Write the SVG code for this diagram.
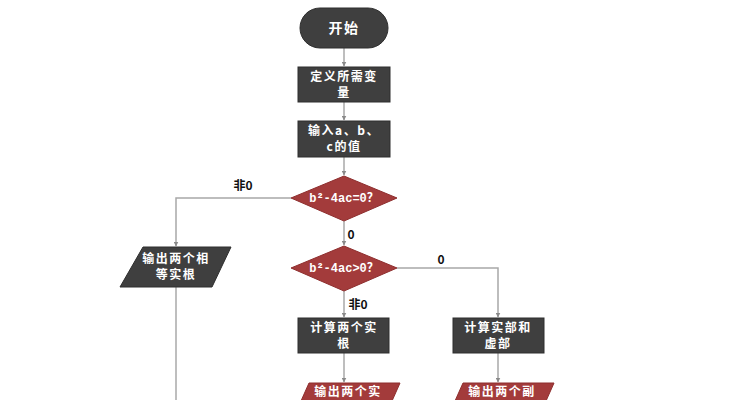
<svg xmlns="http://www.w3.org/2000/svg" width="735" height="400" viewBox="0 0 735 400">
<style>
.dk{fill:#3f3f3f;stroke:#2e2e2e;stroke-width:1}
.rd{fill:#a33b3b;stroke:#8e2e2e;stroke-width:1}
.t{fill:#fff;font-family:"Noto Sans CJK SC","Noto Sans",sans-serif;font-size:12px;font-weight:bold;text-anchor:middle;letter-spacing:1.5px}
.dt{fill:#fff;font-family:"Liberation Mono","Noto Sans CJK SC",monospace;font-size:12px;font-weight:bold;text-anchor:middle}
.lb{fill:#111;font-family:"Noto Sans CJK SC","Noto Sans",sans-serif;font-size:12px;font-weight:bold;text-anchor:middle}
.c{fill:none;stroke:#a8a8a8;stroke-width:1.5}
</style>
<defs>
<marker id="ar" viewBox="0 0 10 10" refX="9" refY="5" markerWidth="5" markerHeight="5" orient="auto" markerUnits="userSpaceOnUse">
<path d="M0,0 L10,5 L0,10 z" fill="#8a8a8a"/>
</marker>
</defs>
<rect width="735" height="400" fill="#fff"/>
<g id="connectors">
<path class="c" d="M344,48 V66" marker-end="url(#ar)"/>
<path class="c" d="M344,102 V120" marker-end="url(#ar)"/>
<path class="c" d="M344,157 V175" marker-end="url(#ar)"/>
<path class="c" d="M291,198 H176 V246" marker-end="url(#ar)"/>
<path class="c" d="M344,221 V245" marker-end="url(#ar)"/>
<path class="c" d="M176,287 V400"/>
<path class="c" d="M397,268 H498 V317" marker-end="url(#ar)"/>
<path class="c" d="M344,291 V317" marker-end="url(#ar)"/>
<path class="c" d="M344,353 V382" marker-end="url(#ar)"/>
<path class="c" d="M498,353 V382" marker-end="url(#ar)"/>
<text class="lb" x="243" y="190">非0</text>
<text class="lb" x="351" y="239">0</text>
<text class="lb" x="441" y="264">0</text>
<text class="lb" x="358" y="309">非0</text>
</g>
<g id="start">
<rect class="dk" x="300" y="8" width="88" height="40" rx="20"/>
<text class="t" x="344" y="33" style="font-size:14px">开始</text>
</g>
<g id="define">
<rect class="dk" x="298" y="67" width="92" height="35"/>
<text class="t" x="344" y="81">定义所需变</text>
<text class="t" x="344" y="97">量</text>
</g>
<g id="input">
<rect class="dk" x="298" y="121" width="92" height="36"/>
<text class="t" x="344" y="135">输入a、b、</text>
<text class="t" x="344" y="151">c的值</text>
</g>
<g id="cond1">
<polygon class="rd" points="344,176 397,198 344,221 291,198"/>
<text class="dt" x="344" y="202">b²-4ac=0？</text>
</g>
<g id="cond2">
<polygon class="rd" points="344,246 397,268 344,291 291,268"/>
<text class="dt" x="344" y="272">b²-4ac&gt;0？</text>
</g>
<g id="equal">
<polygon class="dk" points="143,247 231,247 212,287 120,287"/>
<text class="t" x="176" y="263">输出两个相</text>
<text class="t" x="176" y="279">等实根</text>
</g>
<g id="realroots">
<rect class="dk" x="298" y="318" width="91" height="35"/>
<text class="t" x="344" y="332">计算两个实</text>
<text class="t" x="344" y="348">根</text>
</g>
<g id="complex">
<rect class="dk" x="453" y="318" width="91" height="35"/>
<text class="t" x="498" y="332">计算实部和</text>
<text class="t" x="498" y="348">虚部</text>
</g>
<g id="outreal">
<polygon class="rd" points="309,383 400,383 388,410 297,410"/>
<text class="t" x="348" y="396">输出两个实</text>
</g>
<g id="outcomplex">
<polygon class="rd" points="463,383 554,383 542,410 451,410"/>
<text class="t" x="502" y="396">输出两个副</text>
</g>
</svg>
